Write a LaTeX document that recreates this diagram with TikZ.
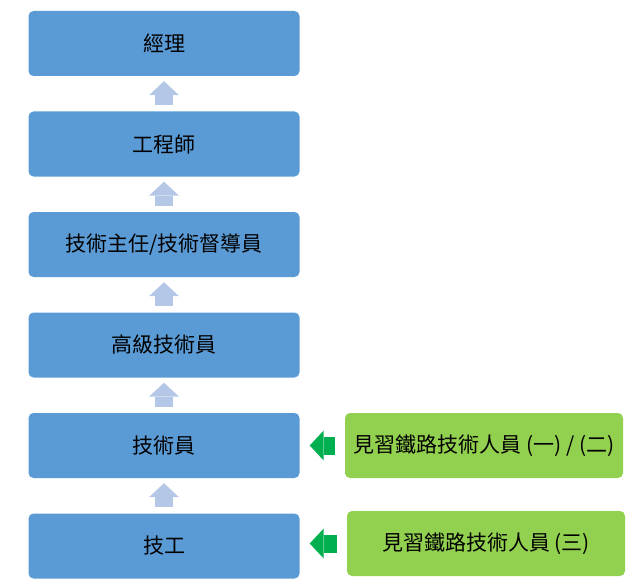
\documentclass[tikz,border=0pt]{standalone}
\usepackage{fontspec}
\setmainfont{Noto Sans CJK TC}
\usetikzlibrary{arrows.meta,positioning}
\definecolor{boxblue}{HTML}{5B9BD5}
\definecolor{arrowblue}{HTML}{B4C7E7}
\definecolor{boxgreen}{HTML}{92D050}
\definecolor{arrowgreen}{HTML}{00B050}

\begin{document}
\begin{tikzpicture}[x=1pt,y=-1pt,node distance=100.5pt,
    main node/.style={rectangle,rounded corners=5pt,fill=boxblue,minimum width=271pt,
      minimum height=65pt,inner sep=0pt,font=\fontsize{21}{25}\selectfont},
    side node/.style={main node,fill=boxgreen,minimum width=278pt},
    up arrow/.style={-{Triangle[width=30pt,length=14pt,line width=0pt]},line width=18pt,
      draw=arrowblue,shorten <=6pt,shorten >=5pt},
    left arrow/.style={up arrow,draw=arrowgreen,shorten <=10pt,shorten >=10pt}]

      \useasboundingbox (0,0) rectangle (639,588);

      \node[main node] (1) at (164,43.5) {經理};
      \node[main node] (2) [below of=1] {工程師};
      \node[main node] (3) [below of=2] {技術主任/技術督導員};
      \node[main node] (4) [below of=3] {高級技術員};
      \node[main node] (5) [below of=4] {技術員};
      \node[main node] (6) [below of=5] {技工};
      \node[side node] (7) [right of=5,node distance=320pt] {見習鐵路技術人員 (一) / (二)};
      \node[side node] (8) at (486,543.5) {見習鐵路技術人員 (三)};

      \path
        (2) edge[up arrow] (1)
        (3) edge[up arrow] (2)
        (4) edge[up arrow] (3)
        (5) edge[up arrow] (4)
        (6) edge[up arrow] (5)
        (7) edge[left arrow] (5)
        (8.west) edge[left arrow] (8.west -| 6.east);
    \end{tikzpicture}
\end{document}
